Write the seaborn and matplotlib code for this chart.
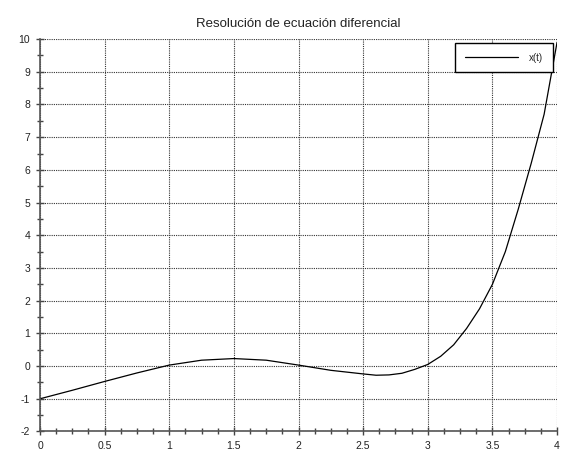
import matplotlib
matplotlib.use("Agg")
import matplotlib.pyplot as plt
import seaborn as sns
import pandas as pd
from matplotlib.ticker import AutoMinorLocator

t_values = [0.0, 0.25, 0.5, 0.75, 1.0, 1.25, 1.5, 1.75, 2.0, 2.25, 2.5, 2.6, 2.7,
            2.8, 2.9, 3.0, 3.1, 3.2, 3.3, 3.4, 3.5, 3.6, 3.7, 3.8, 3.9, 4.0]
x_values = [-1.00, -0.74, -0.47, -0.21, 0.03, 0.18, 0.23, 0.18, 0.03, -0.13, -0.24, -0.28, -0.27,
            -0.22, -0.10, 0.05, 0.30, 0.65, 1.15, 1.75, 2.5, 3.5, 4.8, 6.2, 7.7, 9.9]
x_ticks = [0, 0.5, 1, 1.5, 2, 2.5, 3, 3.5, 4]
x_tick_labels = ["0", "0.5", "1", "1.5", "2", "2.5", "3", "3.5", "4"]
y_ticks = list(range(-2, 11))
title = "Resolución de ecuación diferencial"
series_label = "x(t)"

sns.set_style("white")
plt.rcParams['font.family'] = ['Liberation Sans', 'DejaVu Sans']
plt.rcParams['axes.unicode_minus'] = False

df = pd.DataFrame({"t": t_values, "x": x_values})

fig = plt.figure(figsize=(5.69, 4.54), dpi=100)
ax = fig.add_axes([0.0703, 0.0496, 0.9087, 0.8644])

sns.lineplot(data=df, x="t", y="x", sort=False, color="black", linewidth=0.9,
             label=series_label, ax=ax)

ax.set_xlim(0, 4)
ax.set_ylim(-2, 10)
ax.set_xticks(x_ticks)
ax.set_xticklabels(x_tick_labels)
ax.set_yticks(y_ticks)
ax.set_yticklabels([str(v) for v in y_ticks])
ax.xaxis.set_minor_locator(AutoMinorLocator(4))
ax.yaxis.set_minor_locator(AutoMinorLocator(2))
ax.set_xlabel("")
ax.set_ylabel("")

ax.grid(True, which="major", linestyle=(0, (1, 1)), color="#333333", linewidth=0.8)
ax.set_axisbelow(True)

for s in ["top", "right"]:
    ax.spines[s].set_visible(False)
for s in ["left", "bottom"]:
    ax.spines[s].set_color("#555555")
    ax.spines[s].set_linewidth(1.2)

ax.tick_params(axis="both", which="major", direction="inout", length=6, width=1,
               color="#444444", labelsize=7.5, labelcolor="#222222", left=True, bottom=True)
ax.tick_params(axis="both", which="minor", direction="inout", length=4, width=1,
               color="#444444", left=True, bottom=True)
ax.tick_params(axis="x", pad=4)
ax.tick_params(axis="y", pad=4)

ax.set_title(title, fontsize=9.5, color="#222222", pad=9)

leg = ax.legend(loc="upper right", fontsize=7, frameon=True, fancybox=False,
                edgecolor="black", framealpha=1, handlelength=5.4,
                borderpad=1.0, handletextpad=1.2, borderaxespad=0.4)
leg.get_frame().set_linewidth(1.0)

fig.savefig("out.png", dpi=100)
